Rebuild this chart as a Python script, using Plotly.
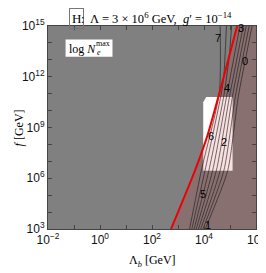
import plotly.graph_objects as go

# ---- data (log10 values) ----
# red boundary: log10(Lambda_b/GeV), log10(f/GeV)
red_logL = [2.732, 3.623, 4.148, 4.712, 5.275]
red_logf = [3.0, 6.340, 8.604, 11.717, 15.0]

# white (excluded) box
box_logL = [3.97, 3.97, 4.085, 5.10, 5.10]
box_logf = [6.45, 10.49, 10.81, 10.81, 6.45]

# contour lines of log N_e^max (level: (logL list, logf list))
contours = {
    0: ([4.047, 4.911, 5.324, 5.850], [3.0, 6.453, 10.868, 15.0]),
    1: ([3.961, 4.764, 5.211, 5.737], [3.0, 6.453, 10.868, 15.0]),
    2: ([3.874, 4.622, 5.099, 5.624], [3.0, 6.453, 10.868, 15.0]),
    3: ([3.788, 4.475, 4.986, 5.512], [3.0, 6.453, 10.868, 15.0]),
    4: ([3.701, 4.332, 4.873, 5.380], [3.0, 6.453, 10.868, 15.0]),
    5: ([3.619, 4.186, 4.761, 4.974, 5.061], [3.0, 6.453, 10.868, 13.245, 15.0]),
    6: ([3.532, 4.039, 4.648, 4.760, 4.862], [3.0, 6.453, 10.868, 12.0, 15.0]),
    7: ([3.446, 3.897, 4.589, 4.622], [3.0, 6.453, 11.038, 15.0]),
}

# contour label positions
label_text = ["7", "3", "0", "4", "6", "2", "5", "1"]
label_logL = [4.535, 5.437, 5.587, 4.873, 4.272, 4.761, 3.972, 4.160]
label_logf = [14.32, 14.886, 12.96, 11.32, 8.49, 8.15, 5.04, 3.23]

x_tick_exp = list(range(-2, 7))
y_tick_exp = list(range(3, 16))

fig = go.Figure()

# white box
fig.add_trace(go.Scatter(
    x=[10 ** v for v in box_logL], y=[10 ** v for v in box_logf],
    fill="toself", fillcolor="white", mode="lines", line=dict(width=0),
    hoverinfo="skip", showlegend=False))

# translucent red region right of the red boundary
reg_x = [10 ** v for v in red_logL] + [10 ** 6, 10 ** 6]
reg_y = [10 ** v for v in red_logf] + [10 ** 15, 10 ** 3]
fig.add_trace(go.Scatter(
    x=reg_x, y=reg_y, fill="toself", fillcolor="rgba(205,0,0,0.12)",
    mode="lines", line=dict(width=0), hoverinfo="skip", showlegend=False))

# contour lines
for lvl, (lx, ly) in contours.items():
    fig.add_trace(go.Scatter(
        x=[10 ** v for v in lx], y=[10 ** v for v in ly], mode="lines",
        line=dict(color="rgba(20,20,20,0.85)", width=0.7, shape="spline", smoothing=0.6),
        hoverinfo="skip", showlegend=False))

# red boundary
fig.add_trace(go.Scatter(
    x=[10 ** v for v in red_logL], y=[10 ** v for v in red_logf], mode="lines",
    line=dict(color="#ee0000", width=2, shape="spline", smoothing=0.5),
    hoverinfo="skip", showlegend=False))

# contour labels
for t, lx, ly in zip(label_text, label_logL, label_logf):
    fig.add_annotation(x=lx, y=ly, text=t, showarrow=False,
                       font=dict(family="Liberation Sans", size=11, color="black"))

axis_common = dict(type="log", showgrid=False, zeroline=False, ticks="inside",
                   ticklen=4, tickcolor="#444", showline=True, linecolor="#444",
                   linewidth=1, mirror="ticks",
                   tickfont=dict(family="Liberation Sans", size=12, color="#111"))

fig.update_xaxes(range=[-2, 6], tickvals=[10 ** e for e in x_tick_exp],
                 ticktext=[("10<sup>%d</sup>" % e).replace("-", "\u2212") if e % 2 == 0 else ""
                           for e in x_tick_exp], **axis_common)
fig.update_yaxes(range=[3, 15], tickvals=[10 ** e for e in y_tick_exp],
                 ticktext=["10<sup>%d</sup>" % e if e % 3 == 0 else "" for e in y_tick_exp],
                 **axis_common)

serif = "Liberation Serif"
# axis titles
fig.add_annotation(xref="paper", yref="paper", x=0.5, y=-0.160,
                   text="\u039b<sub><i>b</i></sub> [GeV]", showarrow=False,
                   font=dict(family=serif, size=12, color="black"), yanchor="middle")
fig.add_annotation(xref="paper", yref="paper", x=-0.183, y=0.5,
                   text="<i>f</i> [GeV]", showarrow=False, textangle=-90,
                   font=dict(family=serif, size=12, color="black"))

# title
fig.add_annotation(xref="paper", yref="paper", x=0.102, y=1.037, text="H",
                   showarrow=False, bordercolor="#777", borderwidth=1, borderpad=2,
                   font=dict(family=serif, size=13, color="black"), yanchor="middle")
fig.add_annotation(xref="paper", yref="paper", x=0.150, y=1.037, xanchor="left",
                   yanchor="middle",
                   text=":  \u039b = 3 \u00d7 10<sup>6</sup> GeV,  <i>g</i>\u2032 = 10<sup>\u221214</sup>",
                   showarrow=False, font=dict(family=serif, size=12.5, color="black"))

# legend box "log N_e^max"
fig.add_shape(type="rect", xref="paper", yref="paper", x0=0.0845, x1=0.310,
              y0=0.849, y1=0.934, fillcolor="white", line=dict(width=0), layer="above")
fig.add_annotation(xref="paper", yref="paper", x=0.092, y=0.887, xanchor="left",
                   yanchor="middle", text="log <i>N</i>", showarrow=False,
                   font=dict(family=serif, size=12, color="black"))
fig.add_annotation(xref="paper", yref="paper", x=0.221, y=0.912, xanchor="left",
                   yanchor="middle", text="max", showarrow=False,
                   font=dict(family=serif, size=8, color="black"))
fig.add_annotation(xref="paper", yref="paper", x=0.224, y=0.868, xanchor="left",
                   yanchor="middle", text="<i>e</i>", showarrow=False,
                   font=dict(family=serif, size=8, color="black"))

# page body adds an 8px offset; margins compensate so the plot area lands at 48..261 x 17..229
fig.update_layout(width=266, height=273, margin=dict(l=40, r=13, t=9, b=52),
                  paper_bgcolor="white", plot_bgcolor="#808080", showlegend=False)

fig.write_html("out.html")
